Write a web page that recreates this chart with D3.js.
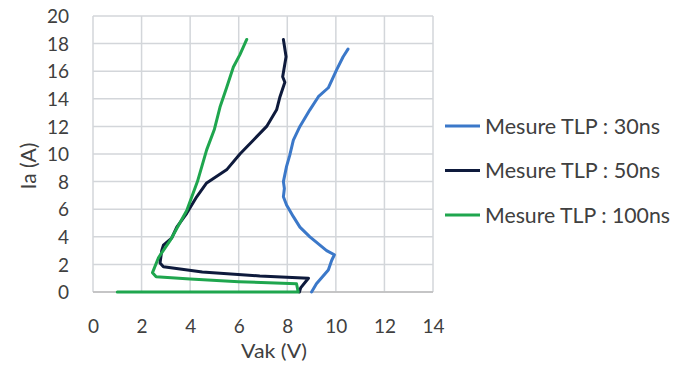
<!DOCTYPE html>
<html><head><meta charset="utf-8">
<script src="https://cdn.jsdelivr.net/npm/d3@7"></script>
<style>body{margin:0;background:#fff;}svg{display:block;}</style>
</head><body>
<svg id="c" width="675" height="367"></svg>
<script>
const xTicks = [0,2,4,6,8,10,12,14];
const yTicks = [0,2,4,6,8,10,12,14,16,18,20];
const seriesNames = ["Mesure TLP : 30ns","Mesure TLP : 50ns","Mesure TLP : 100ns"];
const seriesColors = ["#3b78c9","#0e1a3c","#1fa64e"];
const tlp30 = [[9.0,0],[9.2,0.6],[9.69,1.6],[9.83,2.3],[9.94,2.7],[9.62,3.0],[8.93,4.0],[8.52,4.7],[8.25,5.46],[7.97,6.3],[7.84,6.9],[7.88,7.5],[7.84,8.0],[7.97,9.1],[8.1,9.9],[8.25,11.0],[8.52,12.0],[8.93,13.2],[9.28,14.15],[9.69,14.8],[10.03,16.1],[10.3,17.05],[10.5,17.6]];
const tlp50 = [[8.5,0],[8.55,0.3],[8.87,1.0],[6.87,1.16],[4.5,1.45],[2.9,1.83],[2.76,2.1],[2.83,3.0],[2.9,3.4],[3.24,3.9],[3.45,4.7],[3.86,5.7],[4.27,6.9],[4.68,7.9],[5.5,8.85],[6.05,10.0],[6.6,11.0],[7.15,12.0],[7.56,13.2],[7.7,14.15],[7.9,15.2],[7.81,15.6],[7.95,17.05],[7.84,18.3]];
const tlp100 = [[1.0,0],[8.45,0],[8.38,0.6],[6.0,0.75],[4.0,0.95],[2.6,1.1],[2.45,1.4],[2.7,2.5],[3.2,3.8],[3.86,5.9],[4.3,8.0],[4.68,10.3],[5.0,11.8],[5.23,13.4],[5.5,14.8],[5.78,16.3],[6.05,17.2],[6.33,18.3]];
const allSeries = [tlp30, tlp50, tlp100];

const svg = d3.select("#c");
const x = d3.scaleLinear().domain([0,14]).range([93,433]);
const y = d3.scaleLinear().domain([0,20]).range([292,16]);
const font = "Lato, 'Liberation Sans', sans-serif";
const txt = "#404040";

// gridlines
svg.append("g").selectAll("line").data(xTicks).join("line")
  .attr("x1",d=>x(d)).attr("x2",d=>x(d)).attr("y1",y(0)).attr("y2",y(20))
  .attr("stroke","#d3d6da").attr("stroke-width",1.5);
svg.append("g").selectAll("line").data(yTicks).join("line")
  .attr("y1",d=>y(d)).attr("y2",d=>y(d)).attr("x1",x(0)).attr("x2",x(14))
  .attr("stroke","#d3d6da").attr("stroke-width",1.5);
svg.append("line").attr("x1",x(0)).attr("x2",x(14)).attr("y1",y(0)).attr("y2",y(0))
  .attr("stroke","#bcbcbc").attr("stroke-width",1.5);

// axes
const xAxis = d3.axisBottom(x).tickValues(xTicks).tickSize(0).tickPadding(0);
const gx = svg.append("g").attr("transform","translate(0,333)").call(xAxis);
gx.select(".domain").remove();
gx.selectAll("text").attr("fill",txt).style("font-family",font).style("font-size","19px").attr("dy",0);
const yAxis = d3.axisLeft(y).tickValues(yTicks).tickSize(0).tickPadding(0);
const gy = svg.append("g").attr("transform","translate(69,0)").call(yAxis);
gy.select(".domain").remove();
gy.selectAll("text").attr("fill",txt).style("font-family",font).style("font-size","19px").attr("dy","0.35em");

svg.append("text").attr("x",274).attr("y",358).attr("text-anchor","middle")
  .attr("fill",txt).style("font-family",font).style("font-size","19px")
  .attr("textLength",66).attr("lengthAdjust","spacingAndGlyphs").text("Vak (V)");
svg.append("text").attr("transform","translate(36,166) rotate(-90)").attr("text-anchor","middle")
  .attr("fill",txt).style("font-family",font).style("font-size","21px").text("Ia (A)");

// lines
const line = d3.line().x(d=>x(d[0])).y(d=>y(d[1])).curve(d3.curveLinear);
svg.append("g").selectAll("path").data(allSeries).join("path")
  .attr("d",line).attr("fill","none")
  .attr("stroke",(d,i)=>seriesColors[i]).attr("stroke-width",3)
  .attr("stroke-linejoin","round").attr("stroke-linecap","round");

// legend
const legW = [175,175,185];
const leg = svg.append("g").selectAll("g").data(seriesNames).join("g")
  .attr("transform",(d,i)=>`translate(445,${126+i*44.5})`);
leg.append("line").attr("x1",0).attr("x2",35).attr("y1",0).attr("y2",0)
  .attr("stroke",(d,i)=>seriesColors[i]).attr("stroke-width",3);
leg.append("text").attr("x",40).attr("y",0).attr("dy","0.36em")
  .attr("textLength",(d,i)=>legW[i]).attr("lengthAdjust","spacingAndGlyphs")
  .attr("fill",txt).style("font-family",font).style("font-size","22px").text(d=>d);
</script>
</body></html>
